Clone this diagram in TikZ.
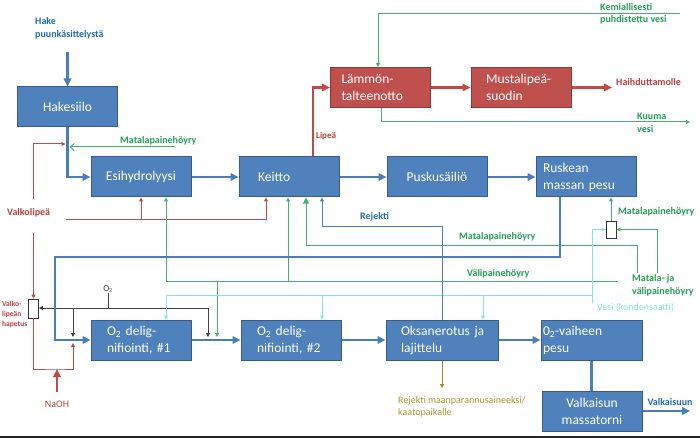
\documentclass[tikz,border=0pt]{standalone}
\usepackage{fontspec}
\setmainfont{Carlito}
\usepackage{xcolor}
\usetikzlibrary{arrows.meta}
\usetikzlibrary{positioning}
\usetikzlibrary{calc}

\definecolor{boxblue}{HTML}{4F81BD}
\definecolor{boxline}{HTML}{385D8A}
\definecolor{flowblue}{HTML}{4A7EBB}
\definecolor{boxred}{HTML}{C0504D}
\definecolor{rboxline}{HTML}{8C3836}
\definecolor{redline}{HTML}{BE4B48}
\definecolor{redtext}{HTML}{B5403D}
\definecolor{steamgreen}{HTML}{45B06C}
\definecolor{steamtext}{HTML}{20A052}
\definecolor{watercyan}{HTML}{86E6D4}
\definecolor{oxygray}{HTML}{404040}
\definecolor{oliveline}{HTML}{9C8A1C}
\definecolor{olivetext}{HTML}{A8982E}
\definecolor{bluetext}{HTML}{1F6BB0}

\begin{document}
\begin{tikzpicture}[x=1pt, y=-1pt,
 box/.style={draw=boxline, fill=boxblue, line width=1pt, text=white, minimum width=100pt, minimum height=40pt, inner sep=0pt, font=\fontsize{13.5}{17}\selectfont},
 rbox/.style={box, draw=rboxline, fill=boxred},
 mixbox/.style={draw=black!80, fill=white, line width=0.8pt, inner sep=0pt},
 lbl/.style={inner sep=0pt, align=left, font=\bfseries\fontsize{10}{12.5}\selectfont},
 plain/.style={inner sep=0pt, align=left, font=\fontsize{10}{12}\selectfont},
 tip/.style={-{Triangle[length=4pt,width=4pt]}},
 midtip/.style={-{Triangle[length=6pt,width=6pt]}},
 bigtip/.style={-{Triangle[length=8pt,width=7.5pt]}},
 flow/.style={draw=flowblue, line width=2.6pt},
 redflow/.style={draw=redline, line width=2.6pt},
 redthin/.style={draw=redline, line width=1pt},
 steam/.style={draw=steamgreen, line width=1pt},
 water/.style={draw=watercyan, line width=1pt},
 oxy/.style={draw=oxygray, line width=0.8pt},
 rej/.style={draw=flowblue, line width=1pt},
 waste/.style={draw=oliveline, line width=1pt}]
\useasboundingbox (0,0) rectangle (700,438);

 %boxes
 \node[box] (hake) at (67.5,107) {Hakesiilo};
 \node[box] (esi) at (141,177) {Esihydrolyysi};
 \node[box, align=left, text width=62pt, inner xsep=19pt] (keitto) at (289,177) {Keitto};
 \node[box] (pusku) at (437,177) {Puskusäiliö};
 \node[box, align=left, text width=86pt, inner xsep=7pt] (ruskea) at (586,177) {Ruskean\\massan~pesu};

 \node[rbox, align=left, text width=78pt, inner xsep=11pt] (lammon) at (380.5,87.5) {Lämmön-\\talteenotto};
 \node[rbox, align=left, text width=70pt, inner xsep=15pt] (musta) at (521,87.5) {Mustalipeä-\\suodin};

 \node[box, align=left, text width=68pt, inner xsep=16pt] (odel1) at (141,340) {O\textsubscript{2}~delig-\\nifiointi,~\#1};
 \node[box, align=left, text width=68pt, inner xsep=16pt] (odel2) at (291,340) {O\textsubscript{2}~delig-\\nifiointi,~\#2};
 \node[box, align=left, text width=82pt, inner xsep=15pt] (oksa) at (442,340) {Oksanerotus~ja\\lajittelu};
 \node[box, align=left, text width=97pt, inner xsep=2pt] (pesu) at (591.5,340) {0\textsubscript{2}-vaiheen\\pesu};
 \node[box, align=center] (torni) at (592,411) {Valkaisun\\massatorni};

 \node[mixbox, minimum width=10pt, minimum height=19pt] (hapetus) at (33.5,308.5) {};
 \node[mixbox, minimum width=10pt, minimum height=17pt] (sekoitin) at (611,229.5) {};

 %labels
 \node[lbl, text=bluetext, anchor=west] (hakelbl) at (35,28.5) {Hake\\puunkäsittelystä};
 \node[lbl, text=steamtext, anchor=west] (kemlbl) at (600,14) {Kemiallisesti\\puhdistettu vesi};
 \node[lbl, text=steamtext, anchor=west] (kuumalbl) at (637,123) {Kuuma\\vesi};
 \node[lbl, text=redtext, anchor=west] (haihlbl) at (616,82) {Haihduttamolle};
 \node[lbl, text=redtext, anchor=west, font=\bfseries\fontsize{9}{11}\selectfont] (lipealbl) at (316,136) {Lipeä};
 \node[lbl, text=steamtext, anchor=west] (mp1lbl) at (120,141) {Matalapainehöyry};
 \node[lbl, text=redtext, anchor=west] (vlabel) at (7,213) {Valkolipeä};
 \node[lbl, text=bluetext, anchor=west] (rejlbl) at (360,217) {Rejekti};
 \node[lbl, text=steamtext, anchor=west] (mp2lbl) at (459,237) {Matalapainehöyry};
 \node[lbl, text=steamtext, anchor=west] (mp3lbl) at (618,212) {Matalapainehöyry};
 \node[lbl, text=steamtext, anchor=west] (vplbl) at (467,274) {Välipainehöyry};
 \node[lbl, text=steamtext, anchor=west] (mvlbl) at (632,285.5) {Matala- ja\\välipainehöyry};
 \node[plain, text=watercyan, anchor=west] (vesilbl) at (597,308) {Vesi (kondensaatti)};
 \node[lbl, text=redtext, anchor=west, font=\bfseries\fontsize{7.5}{10}\selectfont] (haplbl) at (2,314) {Valko-\\lipeän\\hapetus};
 \node[plain, text=oxygray, font=\fontsize{9}{11}\selectfont] (o2) at (108,289) {O\textsubscript{2}};
 \node[plain, text=redtext] (naoh) at (57,404) {NaOH};
 \node[plain, text=olivetext, anchor=west] (rejmlbl) at (398,407) {Rejekti maanparannusaineeksi/\\kaatopaikalle};
 \node[lbl, text=bluetext] (valklbl) at (670,402) {Valkaisuun};

 %free ends
 \coordinate (hakein) at (67.5,52);
 \coordinate (paluu) at (55,257);
 \coordinate (valkout) at (690,411);
 \coordinate (haihout) at (612,87.5);
 \coordinate (kemin) at (680,14);
 \coordinate (kuumaout) at (690,122);
 \coordinate (mp1in) at (175,147);
 \coordinate (vltop) at (33.5,144);
 \coordinate (vl1) at (33.5,199);
 \coordinate (vl2) at (33.5,233);
 \coordinate (vlh) at (66,219);
 \coordinate (naohin) at (57,369);
 \coordinate (o2in) at (73,340);
 \coordinate (o2l) at (73,308);
 \coordinate (o2r) at (208,308);
 \coordinate (o2mid) at (208,340);
 \coordinate (vpin) at (618,281);
 \coordinate (vpj) at (217,281);
 \coordinate (vpo) at (217,340);
 \coordinate (mpin) at (637,273);
 \coordinate (mpk) at (637,245);
 \coordinate (mvin) at (657,273);
 \coordinate (vesiin) at (592,303);
 \coordinate (vesij) at (592,295);
 \coordinate (rejk) at (442,226);
 \coordinate (rejout) at (442,388);

 %thin lines
 \path[draw, steam, tip] (kemin) -| ([xshift=-2.5pt]lammon.north);
 \path[draw, steam, tip] ([xshift=0.5pt]lammon.south) |- (kuumaout);
 \path[draw, steam, -{Straight Barb[length=4pt,width=7pt]}, shorten >=2pt] (mp1in) -- (mp1in -| hake);

 \path[draw, redthin, tip, shorten >=2pt] (vl1) -- (vltop) -- (vltop -| hake);
 \path[draw, redthin, tip] (vlh) -| ([xshift=-23pt]keitto.south);
 \path[draw, redthin, tip] (vlh -| esi) -- (esi);
 \path[draw, redthin, tip] (vl2) -- (hapetus);
 \path[draw, redthin, tip, shorten >=3pt] (hapetus) |- (naohin) -| (o2in);

 \path[draw, oxy] (o2) -- (o2 |- o2r);
 \path[draw, oxy, tip] (o2r) -- (hapetus.east |- o2r);
 \path[draw, oxy, tip, shorten >=3pt] (o2l) -- (o2in);
 \path[draw, oxy, tip, shorten >=3pt] (o2r) -- (o2mid);

 \path[draw, steam, tip] (vpin) -| ([xshift=25pt]esi.south);
 \path[draw, steam, tip] ([xshift=-1pt]keitto.south |- vpin) -- ([xshift=-1pt]keitto.south);
 \path[draw, steam, tip, shorten >=3pt] (vpj) -- (vpo);
 \path[draw, steam, midtip] (mpin) -- (mpk) -| ([xshift=17pt]keitto.south);
 \path[draw, steam, tip] (mvin) |- (sekoitin);
 \path[draw, steam, tip] (sekoitin) -- (sekoitin |- ruskea.south);

 \path[draw, water, tip] (vesiin) |- (sekoitin);
 \path[draw, water, tip] (vesij) -| ([xshift=25pt]odel1.north);
 \path[draw, water, tip] ([xshift=31pt]odel2.north |- vesij) -- ([xshift=31pt]odel2.north);
 \path[draw, water, tip] ([xshift=41pt]oksa.north |- vesij) -- ([xshift=41pt]oksa.north);

 \path[draw, rej, tip] (oksa) -- (rejk) -| ([xshift=33pt]keitto.south);
 \path[draw, waste, tip] (oksa) -- (rejout);

 %main flow
 \path[draw, flow, bigtip] (hakein) -- (hake);
 \path[draw, flow, bigtip] (hake) |- (esi);
 \path[draw, flow, bigtip] (esi) -- (keitto);
 \path[draw, flow, bigtip] (keitto) -- (pusku);
 \path[draw, flow, bigtip] (pusku) -- (ruskea);
 \path[draw, flow, bigtip] ([xshift=-26pt]ruskea.south) |- (paluu) |- (odel1);
 \path[draw, flow, bigtip] (odel1) -- (odel2);
 \path[draw, flow, bigtip] (odel2) -- (oksa);
 \path[draw, flow, bigtip] (oksa) -- (pesu);
 \path[draw, flow] (pesu) -- (pesu |- torni.north);
 \path[draw, flow, bigtip] (torni) -- (valkout);

 \path[draw, redflow, bigtip] ([xshift=24pt]keitto.north) |- (lammon);
 \path[draw, redflow, bigtip] (lammon) -- (musta);
 \path[draw, redflow, bigtip] (musta) -- (haihout);
 \path[draw, redflow, bigtip, shorten <=9pt] (naoh) -- (naohin);

 %frame
 \draw[black!85, line width=2pt] (0,437) -- (700,437);
\end{tikzpicture}
\end{document}
